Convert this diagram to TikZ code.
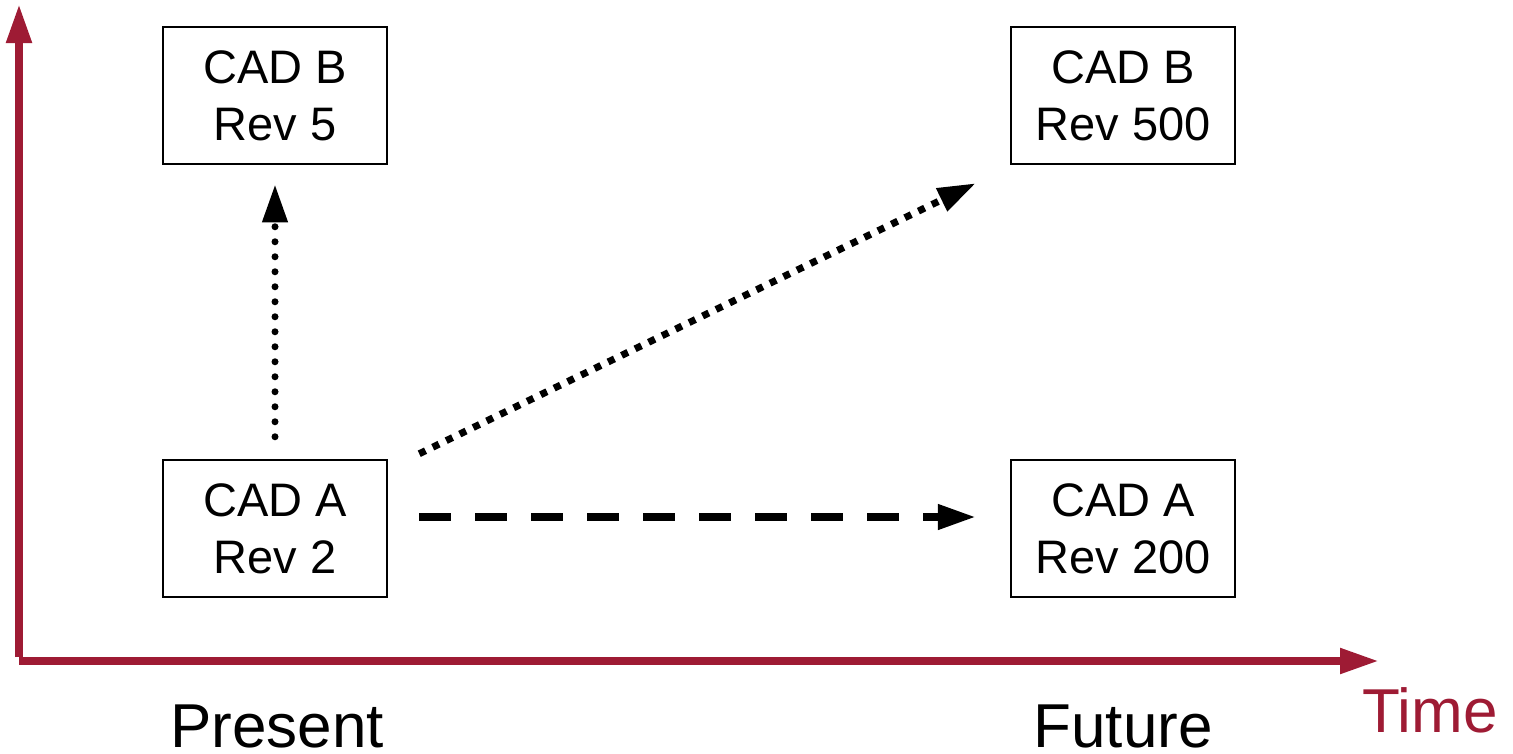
\documentclass[tikz,border=0pt]{standalone}
\usepackage{fontspec}
\setmainfont{Liberation Sans}
\usetikzlibrary{arrows.meta,calc}
\definecolor{axisred}{RGB}{158,27,52}
\tikzset{
  cadbox/.style={draw=black, line width=2.5pt, minimum width=224pt, minimum height=137pt,
    inner sep=0pt, align=center, font=\fontsize{47}{57}\selectfont},
  axisline/.style={draw=axisred, line width=8pt, line cap=butt,
    -{Triangle[length=39pt,width=24pt]}},
  blacktip/.style={-{Triangle[length=38pt,width=24pt]}},
  roundDots/.style={blacktip, line width=7pt, line cap=round, dash pattern=on 0pt off 15pt},
  squareDots/.style={blacktip, line width=7pt, line cap=butt, dash pattern=on 7pt off 8pt},
  longDash/.style={blacktip, line width=7.5pt, line cap=butt, dash pattern=on 32pt off 24pt},
  biglabel/.style={anchor=base, inner sep=0pt, font=\fontsize{62}{62}\selectfont}
}
\begin{document}
\begin{tikzpicture}[x=1pt,y=-1pt]
\useasboundingbox (0,0) rectangle (1513,753);
% axes
\coordinate (corner) at (19,661);
\coordinate (ytop) at (19,4);
\coordinate (xend) at (1379,661);
\draw[axisline] ($(corner)+(0,-4)$) -- (ytop);
\draw[axisline] (corner) -- (xend);
% boxes
\node[cadbox] (b5) at (275,95.5) {CAD B\\Rev 5};
\node[cadbox] (a2) at (275,528.5) {CAD A\\Rev 2};
\node[cadbox] (b500) at (1123,95.5) {CAD B\\Rev 500};
\node[cadbox] (a200) at (1123,528.5) {CAD A\\Rev 200};
% connectors
\draw[roundDots] ($(a2.north)+(0,-22)$) -- ($(b5.south)+(0,19)$);
\draw[squareDots] ($(a2.north east)+(31,-5)$) -- ($(b500.south west)+(-34,18)$);
\draw[longDash] ($(a2.east)+(31,-11.5)$) -- ($(a200.west)+(-34,-11.5)$);
% labels
\node[biglabel] (present) at (277,747) {Present};
\node[biglabel] (future) at (1123,747) {Future};
\node[biglabel, text=axisred] (time) at (1430,732) {Time};
\end{tikzpicture}
\end{document}
